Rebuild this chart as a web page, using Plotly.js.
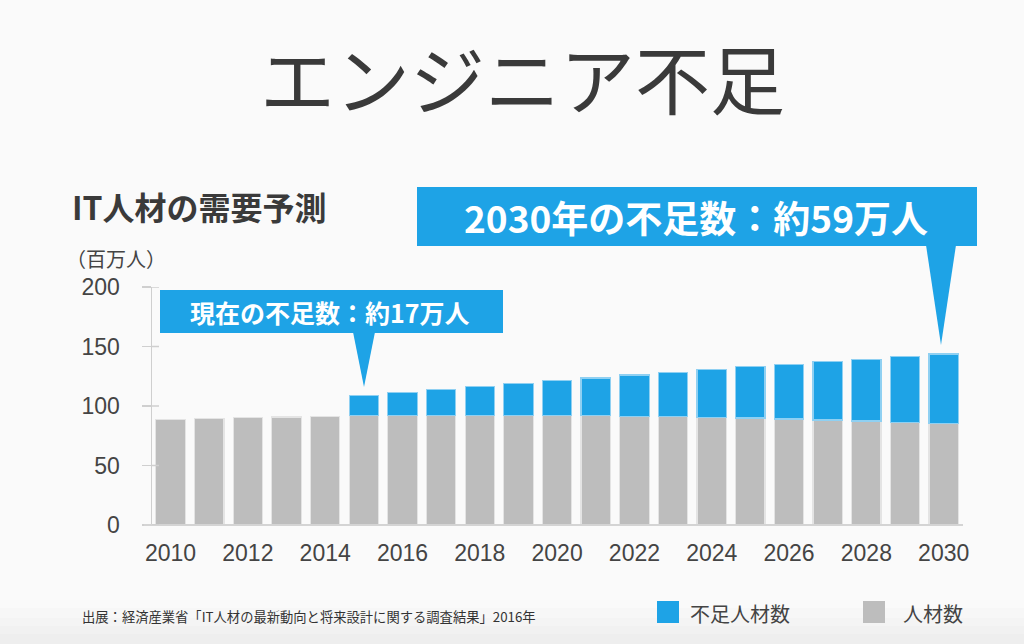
<!DOCTYPE html>
<html>
<head>
<meta charset="utf-8">
<script src="https://cdn.plot.ly/plotly-3.0.1.min.js"></script>
<style>
  html, body { margin: 0; padding: 0; background: #fafafa; }
  #chart { width: 1024px; height: 644px; }
</style>
</head>
<body>
<div id="chart"></div>
<script>
const years = [2010, 2011, 2012, 2013, 2014, 2015, 2016, 2017, 2018, 2019, 2020,
    2021, 2022, 2023, 2024, 2025, 2026, 2027, 2028, 2029, 2030];
// 人材数 (supply)
const supply = [88.8, 89.6, 90.2, 90.7, 91.3, 91.9, 92.2, 92.2, 92.3, 92.3, 92.2,
    91.9, 91.3, 91.0, 90.5, 89.9, 89.1, 88.2, 87.4, 86.3, 85.5];
// 不足人材数 (shortage) - no shortage bar before 2015
const shortage = [null, null, null, null, null, 16.8, 19.0, 21.5, 23.9, 26.4, 29.1,
    31.6, 34.8, 37.3, 40.0, 43.1, 45.9, 49.1, 51.8, 55.5, 58.2];
const yTicks = [0, 50, 100, 150, 200];
const xTicks = [2010, 2012, 2014, 2016, 2018, 2020, 2022, 2024, 2026, 2028, 2030];

const blue = '#1ea3e6',
    gray = '#bdbdbd',
    jp = '"Noto Sans CJK JP", "Noto Sans", sans-serif',
    num = '"Liberation Sans", Arial, sans-serif';

// plot box in page pixels, used for placing decorations
const L = 152, R = 963, T = 287, B = 525;
const px = x => (x - L) / (R - L),
    py = y => (B - y) / (B - T);

let traces = [
    {
        type: 'bar',
        name: '人材数',
        x: years,
        y: supply,
        marker: { color: gray, line: { color: '#e4e4e4', width: 1.2 } },
        hoverinfo: 'skip',
    },
    {
        type: 'bar',
        name: '不足人材数',
        x: years,
        y: shortage,
        marker: { color: blue, line: { color: '#8fd0f2', width: 1.2 } },
        hoverinfo: 'skip',
    },
];

const tri = (x1, x2, yb, xt, yt) =>
    `M ${px(x1)} ${py(yb)} L ${px(x2)} ${py(yb)} L ${px(xt)} ${py(yt)} Z`;

const band = (y0) => ({
    type: 'rect', xref: 'paper', yref: 'paper', x0: px(0), x1: px(1024), y0: py(644), y1: py(y0),
    fillcolor: 'rgba(0,0,0,0.011)', line: { width: 0 }, layer: 'below',
});

let shapes = [
    // faint shading at the foot of the slide
    band(608), band(618), band(626), band(634),
    // x axis base line
    { type: 'line', xref: 'paper', yref: 'paper', x0: px(144), x1: 1, y0: 0, y1: 0,
        line: { color: '#d4d4d4', width: 2 } },
    // callout 1
    { type: 'rect', xref: 'paper', yref: 'paper', x0: px(160), x1: px(503), y0: py(333), y1: py(290),
        fillcolor: blue, line: { width: 0 } },
    { type: 'path', xref: 'paper', yref: 'paper', path: tri(353, 375, 332, 364, 387),
        fillcolor: blue, line: { width: 0 } },
    // callout 2
    { type: 'rect', xref: 'paper', yref: 'paper', x0: px(417), x1: px(977), y0: py(246), y1: py(187),
        fillcolor: blue, line: { width: 0 } },
    { type: 'path', xref: 'paper', yref: 'paper', path: tri(926, 956, 245, 941, 345),
        fillcolor: blue, line: { width: 0 } },
    // legend swatches
    { type: 'rect', xref: 'paper', yref: 'paper', x0: px(657), x1: px(679), y0: py(623), y1: py(601),
        fillcolor: blue, line: { width: 0 } },
    { type: 'rect', xref: 'paper', yref: 'paper', x0: px(863), x1: px(885), y0: py(623), y1: py(601),
        fillcolor: gray, line: { width: 0 } },
];

// small inside ticks on the y axis
yTicks.forEach(v => shapes.push({
    type: 'line', xref: 'paper', yref: 'y', x0: 0, x1: px(159), y0: v, y1: v,
    line: { color: '#cfcfcf', width: 1.5 },
}));

const note = (text, x, y, size, color, opts = {}) => Object.assign({
    text: text, xref: 'paper', yref: 'paper', x: px(x), y: py(y),
    xanchor: 'left', yanchor: 'middle', showarrow: false,
    font: { family: jp, size: size, color: color },
}, opts);

let annotations = [
    note('エンジニア不足', 522, 76, 75, '#3a3a3a', { xanchor: 'center' }),
    note('<b>IT人材の需要予測</b>', 70, 206, 32, '#3a3a3a'),
    note('（百万人）', 64, 258, 20, '#444'),
    note('<b>現在の不足数：約17万人</b>', 330, 312, 25, '#fff', { xanchor: 'center' }),
    note('<b>2030年の不足数：約59万人</b>', 696, 217, 37, '#fff', { xanchor: 'center' }),
    note('不足人材数', 688, 613, 20, '#444'),
    note('人材数', 901, 613, 20, '#444'),
    note('出展：経済産業省「IT人材の最新動向と将来設計に関する調査結果」2016年', 80, 616, 13.3, '#333'),
];

let layout = {
    width: 1024,
    height: 644,
    margin: { l: L, r: 1024 - R, t: T, b: 644 - B, pad: 0 },
    paper_bgcolor: '#fafafa',
    plot_bgcolor: '#fafafa',
    barmode: 'stack',
    bargap: 0.24,
    showlegend: false,
    xaxis: {
        range: [2009.52, 2030.5],
        tickmode: 'array',
        tickvals: xTicks,
        ticktext: xTicks.map(String),
        showgrid: false,
        zeroline: false,
        showline: false,
        ticks: '',
        ticklabelstandoff: 12,
        tickfont: { family: num, size: 23, color: '#444' },
        fixedrange: true,
    },
    yaxis: {
        range: [0, 200],
        tickmode: 'array',
        tickvals: yTicks,
        showgrid: false,
        zeroline: false,
        showline: true,
        linecolor: '#cfcfcf',
        linewidth: 1.5,
        ticks: 'outside',
        ticklen: 9,
        tickwidth: 1.5,
        tickcolor: '#cfcfcf',
        ticklabelstandoff: 17,
        tickfont: { family: num, size: 23, color: '#444' },
        fixedrange: true,
    },
    shapes: shapes,
    annotations: annotations,
};

Plotly.newPlot('chart', traces, layout, { displayModeBar: false, staticPlot: true });
</script>
</body>
</html>
